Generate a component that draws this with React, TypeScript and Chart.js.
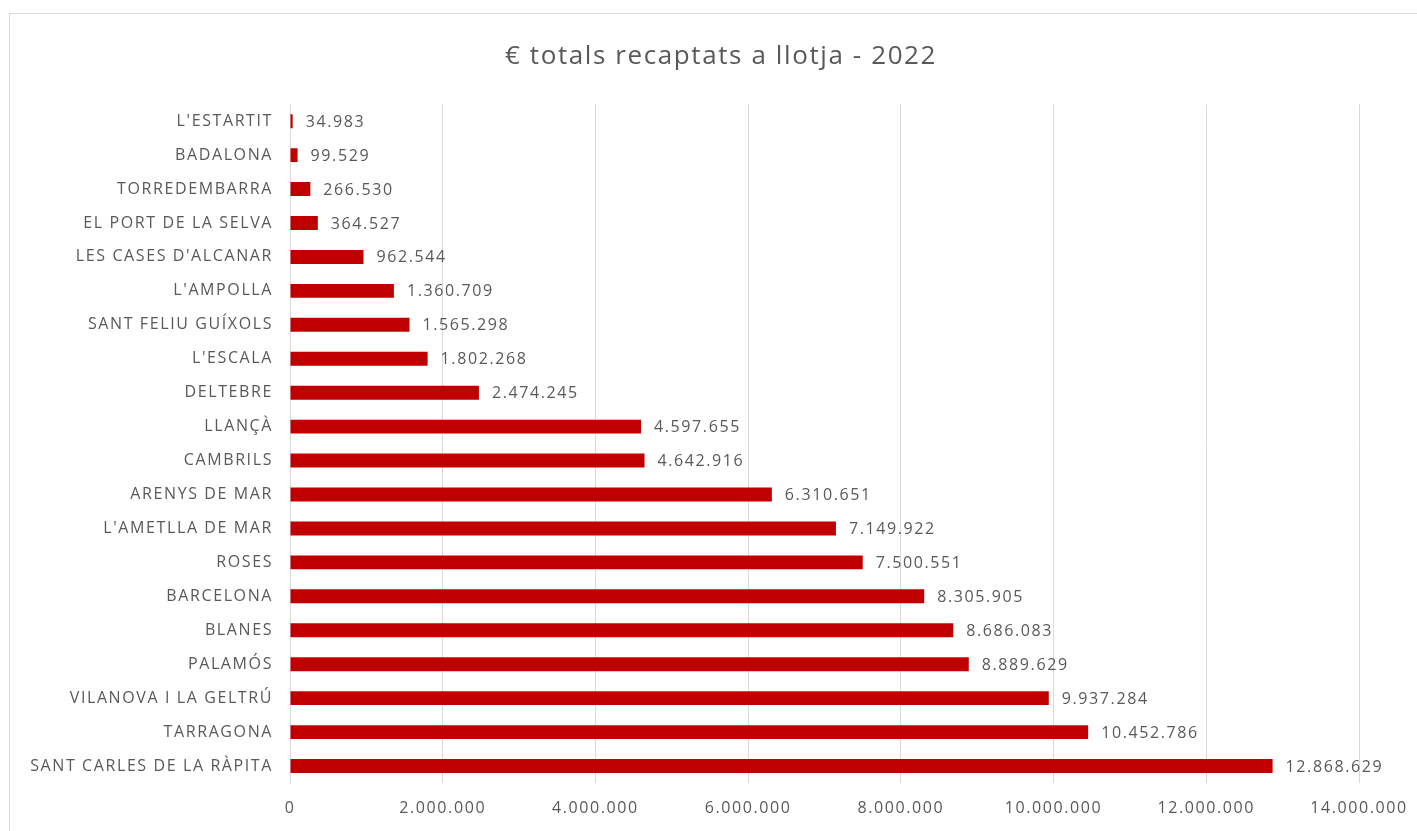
import React, { useEffect, useRef } from "react";
import { Chart, registerables } from "chart.js";

Chart.register(...registerables);

const categories = [
  "L'ESTARTIT",
  "BADALONA",
  "TORREDEMBARRA",
  "EL PORT DE LA SELVA",
  "LES CASES D'ALCANAR",
  "L'AMPOLLA",
  "SANT FELIU GUÍXOLS",
  "L'ESCALA",
  "DELTEBRE",
  "LLANÇÀ",
  "CAMBRILS",
  "ARENYS DE MAR",
  "L'AMETLLA DE MAR",
  "ROSES",
  "BARCELONA",
  "BLANES",
  "PALAMÓS",
  "VILANOVA I LA GELTRÚ",
  "TARRAGONA",
  "SANT CARLES DE LA RÀPITA",
];

const values = [
  34983, 99529, 266530, 364527, 962544, 1360709, 1565298, 1802268, 2474245,
  4597655, 4642916, 6310651, 7149922, 7500551, 8305905, 8686083, 8889629,
  9937284, 10452786, 12868629,
];

const xMin = 0;
const xMax = 14000000;
const xStep = 2000000;

const titleText = "€ totals recaptats a llotja - 2022";

const FONT = "'Open Sans', 'DejaVu Sans', sans-serif";
const TEXT_COLOR = "#595959";
const BAR_COLOR = "#C00000";
const SPACING = "1.6px";

function fmt(n: number): string {
  const s = Math.round(n).toString();
  return s.replace(/\B(?=(\d{3})+(?!\d))/g, ".");
}

const spacingPlugin = {
  id: "letterSpacing",
  beforeUpdate(chart: any) {
    (chart.ctx as any).letterSpacing = SPACING;
  },
  afterLayout(chart: any) {
    // let the category labels use the full space left of the axis
    const y = chart.scales.y;
    if (y) {
      y.left = 0;
      y.width = y.right;
    }
  },
  beforeDraw(chart: any) {
    (chart.ctx as any).letterSpacing = SPACING;
  },
};

const valueLabelPlugin = {
  id: "valueLabels",
  afterDatasetsDraw(chart: any) {
    const ctx = chart.ctx;
    const meta = chart.getDatasetMeta(0);
    const data = chart.data.datasets[0].data as number[];
    ctx.save();
    (ctx as any).letterSpacing = SPACING;
    ctx.font = `16px ${FONT}`;
    ctx.fillStyle = TEXT_COLOR;
    ctx.textAlign = "left";
    ctx.textBaseline = "middle";
    meta.data.forEach((bar: any, i: number) => {
      ctx.fillText(fmt(data[i]), bar.x + 13, bar.y + 1);
    });
    ctx.restore();
  },
};

export default function App() {
  const ref = useRef<HTMLCanvasElement | null>(null);

  useEffect(() => {
    if (!ref.current) return;
    const chart = new Chart(ref.current, {
      type: "bar",
      data: {
        labels: categories,
        datasets: [
          {
            data: values,
            backgroundColor: BAR_COLOR,
            borderWidth: 0,
            categoryPercentage: 1,
            barPercentage: 0.41,
          },
        ],
      },
      options: {
        indexAxis: "y",
        animation: false,
        responsive: false,
        maintainAspectRatio: false,
        layout: { padding: { left: 83, right: 58, top: 0, bottom: 0 } },
        plugins: {
          legend: { display: false },
          tooltip: { enabled: false },
          title: {
            display: true,
            text: titleText,
            color: TEXT_COLOR,
            font: { family: FONT, size: 26, weight: "normal" },
            padding: { top: 41, bottom: 32 },
          },
        },
        scales: {
          x: {
            min: xMin,
            max: xMax,
            ticks: {
              stepSize: xStep,
              color: TEXT_COLOR,
              font: { family: FONT, size: 16 },
              padding: 16,
              callback: (v: any) => fmt(Number(v)),
              maxRotation: 0,
            },
            grid: { color: "#d9d9d9", drawTicks: false, lineWidth: 1 },
            border: { display: false },
            afterFit: (scale: any) => {
              scale.height = 48;
              scale.paddingLeft = 0;
              scale.paddingRight = 0;
            },
          },
          y: {
            ticks: {
              color: TEXT_COLOR,
              font: { family: FONT, size: 16 },
              padding: 17,
              autoSkip: false,
            },
            grid: { display: false, drawTicks: false },
            border: { display: true, color: "#d9d9d9" },
            afterFit: (scale: any) => {
              scale.width = 207;
              scale.paddingTop = 0;
              scale.paddingBottom = 0;
            },
          },
        },
      },
      plugins: [spacingPlugin, valueLabelPlugin],
    });
    return () => chart.destroy();
  }, []);

  return (
    <div
      style={{
        position: "fixed",
        left: 0,
        top: 0,
        width: 1417,
        height: 831,
        background: "#fff",
        overflow: "hidden",
      }}
    >
      <div
        style={{
          position: "absolute",
          left: 9,
          top: 13,
          width: 1420,
          height: 830,
          border: "1px solid #d9d9d9",
          boxSizing: "border-box",
        }}
      />
      <canvas
        ref={ref}
        width={1417}
        height={831}
        style={{ position: "absolute", left: 0, top: 0, width: 1417, height: 831 }}
      />
    </div>
  );
}
